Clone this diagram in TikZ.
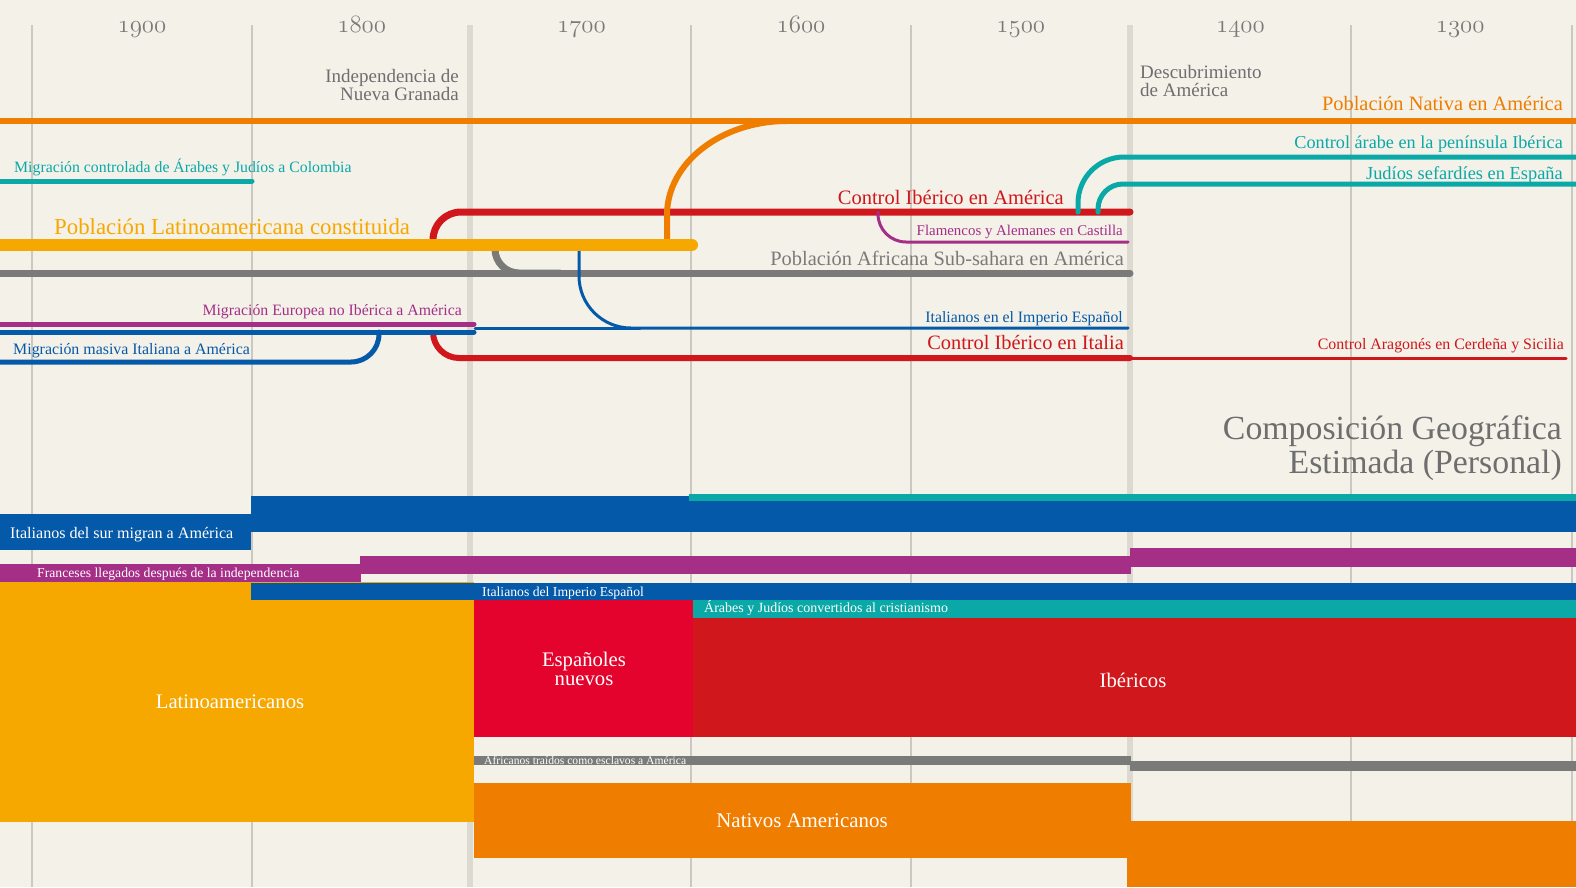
\documentclass[tikz,border=0pt]{standalone}
\usepackage{fontspec}
\setmainfont{Liberation Serif}
\usetikzlibrary{positioning}

\definecolor{paper}{HTML}{F4F1E9}
\definecolor{gridgray}{HTML}{CBC8C1}
\definecolor{gridpale}{HTML}{DCD9D1}
\definecolor{txtgray}{HTML}{6E6E6E}
\definecolor{corange}{HTML}{EF7D00}
\definecolor{cyellow}{HTML}{F7A800}
\definecolor{cred}{HTML}{CF171C}
\definecolor{cpink}{HTML}{E3032D}
\definecolor{cteal}{HTML}{0AA9A8}
\definecolor{cblue}{HTML}{0459A8}
\definecolor{cpurple}{HTML}{A52F87}
\definecolor{cgray}{HTML}{7A7A78}

\begin{document}
\begin{tikzpicture}[x=1pt,y=-1pt,
    lbl/.style={inner sep=0pt, font=\fontsize{#1}{#1}\selectfont},
    yearlbl/.style={inner sep=0pt, anchor=base, text=cgray, font=\fontsize{29}{29}\selectfont},
    flow/.style={line cap=round, line width=#1},
    grid/.style={gridgray, line width=1.2},
    gridthick/.style={gridpale, line width=6}]
  \useasboundingbox (0,0) rectangle (1576,887);
  \clip (0,0) rectangle (1576,887);
  % paper
  \fill[paper] (0,0) rectangle (1576,887);
  % time grid
  \foreach \x in {32,252,691,911,1351,1572}
    \draw[grid] (\x,25) -- (\x,887);
  \foreach \x in {470,1130}
    \draw[gridthick] (\x,25) -- (\x,887);
  % years
  \foreach \yr [count=\i from 0] in {1900,1800,...,1300}
    \node (year\yr) [yearlbl] at (142+219.7*\i,32) {\legacyoldstylenums{\yr}};
  % events
  \node (indep) [lbl=19, text=txtgray, align=right, anchor=north east] at (459,69)
    {Independencia de\\[-1pt]Nueva Granada};
  \node (descub) [lbl=19, text=txtgray, align=left, anchor=north west] at (1140,65)
    {Descubrimiento\\[-1pt]de América};

  % flows
  \draw[flow=7, cgray] (0,273) -- (1130,273);
  \draw[flow=7, cgray, rounded corners=24] (495,245) |- (560,273);
  \draw[flow=7, cred, rounded corners=28] (433,245) |- (1130,212);
  \draw[flow=3, cpurple, rounded corners=28] (878,212) |- (1128,242);
  \draw[flow=5, cteal, rounded corners=46] (1078,212) |- (1590,157);
  \draw[flow=5, cteal, rounded corners=25] (1098,212) |- (1590,184);
  \draw[flow=6, corange] (-10,121) -- (1590,121);
  \draw[flow=6, corange] (667,245) -- (667,215)
    .. controls (667,163) and (721,121) .. (787,121);
  \draw[flow=3, cblue, rounded corners=52] (579,245) |- (1128,328);
  \draw[flow=3, cblue] (475,328) -- (640,328);
  \draw[flow=12, cyellow] (-10,245) -- (692,245);
  \draw[flow=5, cteal] (-10,181) -- (252,181);
  \draw[flow=3, cred] (1130,358) -- (1566,358);
  \draw[flow=6, cred, rounded corners=26] (433,333) |- (1130,358);
  \draw[flow=5, cpurple] (-10,324) -- (474,324);
  \draw[flow=5, cblue, rounded corners=28] (-10,362) -| (379,332);
  \draw[flow=5, cblue] (-10,332) -- (474,332);

  % flow labels
  \node (nativa) [lbl=20.4, text=corange, anchor=base east] at (1563,110) {Población Nativa en América};
  \node (arabe) [lbl=18.2, text=cteal, anchor=base east] at (1563,148) {Control árabe en la península Ibérica};
  \node (sefardi) [lbl=18.4, text=cteal, anchor=base east] at (1563,179) {Judíos sefardíes en España};
  \node (colombia) [lbl=15.8, text=cteal, anchor=base west] at (14,172) {Migración controlada de Árabes y Judíos a Colombia};
  \node (ibamerica) [lbl=20.5, text=cred, anchor=base east] at (1064,204) {Control Ibérico en América};
  \node (latino) [lbl=22.8, text=cyellow, anchor=base west] at (54,234) {Población Latinoamericana constituida};
  \node (flamencos) [lbl=14.9, text=cpurple, anchor=base east] at (1123,235) {Flamencos y Alemanes en Castilla};
  \node (africana) [lbl=20.4, text=cgray, anchor=base east] at (1124,265) {Población Africana Sub-sahara en América};
  \node (europea) [lbl=15.8, text=cpurple, anchor=base east] at (462,315) {Migración Europea no Ibérica a América};
  \node (italimp) [lbl=15.8, text=cblue, anchor=base east] at (1123,322) {Italianos en el Imperio Español};
  \node (masiva) [lbl=15.9, text=cblue, anchor=base west] at (13,354) {Migración masiva Italiana a América};
  \node (ibitalia) [lbl=20.4, text=cred, anchor=base east] at (1124,349) {Control Ibérico en Italia};
  \node (aragon) [lbl=15.9, text=cred, anchor=base east] at (1564,349) {Control Aragonés en Cerdeña y Sicilia};

  % title
  \node (title) [lbl=33.8, text=txtgray, align=right, anchor=north east] at (1562,415)
    {Composición Geográfica\\[1pt]Estimada (Personal)};

  % composition blocks
  \fill[cblue] (251,496) rectangle (1576,532);
  \fill[cteal] (689,494) rectangle (1576,501);
  \fill[cblue] (0,514) rectangle (251,550);
  \fill[cpurple] (0,564) rectangle (361,582);
  \fill[cpurple] (360,556) rectangle (1131,574);
  \fill[cpurple] (1130,548) rectangle (1576,567);
  \fill[cyellow] (0,582) rectangle (474,822);
  \fill[cblue] (251,583) rectangle (1576,600);
  \fill[cpink] (474,600) rectangle (693,737);
  \fill[cteal] (693,600) rectangle (1576,618);
  \fill[cred] (693,618) rectangle (1576,737);
  \fill[cgray] (474,756) rectangle (1131,765);
  \fill[cgray] (1130,761) rectangle (1576,771);
  \fill[corange] (474,783) rectangle (1131,858);
  \fill[corange] (1127,821) rectangle (1576,887);

  % block labels
  \node (surmigran) [lbl=16.1, text=white, anchor=base west] at (10,538) {Italianos del sur migran a América};
  \node (franceses) [lbl=13.7, text=white, anchor=base west] at (37,577) {Franceses llegados después de la independencia};
  \node (impesp) [lbl=13.7, text=white, anchor=base west] at (482,596) {Italianos del Imperio Español};
  \node (conversos) [lbl=14, text=white, anchor=base west] at (704,612) {Árabes y Judíos convertidos al cristianismo};
  \node (latinos) [lbl=20.7, text=white, anchor=base] at (230,708) {Latinoamericanos};
  \node (espnuevos) [lbl=20.7, text=white, align=center, anchor=north] at (584,652) {Españoles\\[-2pt]nuevos};
  \node (ibericos) [lbl=20.7, text=white, anchor=base] at (1133,687) {Ibéricos};
  \node (esclavos) [lbl=11.6, text=white, anchor=base west] at (484,764) {Africanos traídos como esclavos a América};
  \node (nativos) [lbl=20.9, text=white, anchor=base] at (802,827) {Nativos Americanos};
\end{tikzpicture}
\end{document}
